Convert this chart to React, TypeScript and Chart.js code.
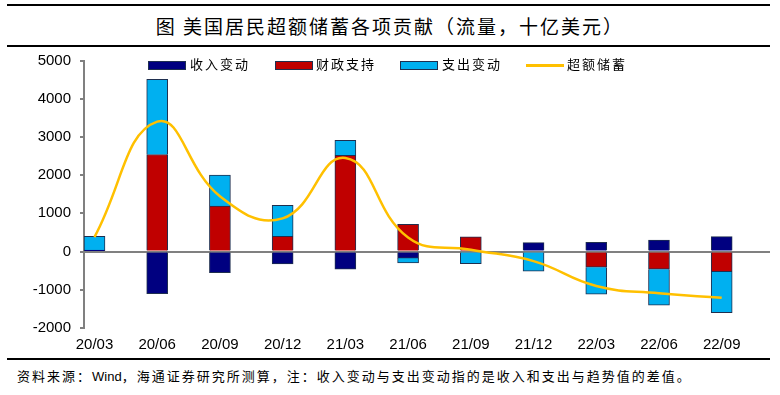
import React, { useEffect, useRef } from "react";
import { Chart, registerables } from "chart.js";

Chart.register(...registerables);

const categories = ["20/03", "20/06", "20/09", "20/12", "21/03", "21/06", "21/09", "21/12", "22/03", "22/06", "22/09"];
const incomeChange = [40, -1100, -550, -320, -460, -170, 0, 235, 245, 300, 390];
const fiscalSupport = [0, 2540, 1190, 400, 2520, 715, 385, 0, -410, -460, -525];
const spendingChange = [360, 1970, 810, 810, 390, -130, -315, -515, -705, -940, -1075];
const excessSavings = [380, 3400, 1450, 870, 2450, 370, 50, -250, -900, -1090, -1210];

const seriesNames = ["收入变动", "财政支持", "支出变动", "超额储蓄"];
const titleText = "图 美国居民超额储蓄各项贡献（流量，十亿美元）";

const NAVY = "#000080";
const RED = "#C00000";
const CYAN = "#00B0F0";
const GOLD = "#FFC000";
const BORDER = "#1F2F4F";

const CJK = '"Noto Sans CJK SC", sans-serif';
const LATIN = '"Liberation Sans", Arial, sans-serif';

function toPoints(arr: number[]) {
  return arr.map((v, i) => ({ x: i, y: v }));
}

export default function App() {
  const ref = useRef<HTMLCanvasElement>(null);

  useEffect(() => {
    if (!ref.current) return;
    const barCommon = {
      type: "bar" as const,
      borderColor: BORDER,
      borderWidth: 1,
      barThickness: 21,
      order: 1,
    };
    const chart = new Chart(ref.current, {
      type: "bar",
      data: {
        datasets: [
          { ...barCommon, label: seriesNames[0], data: toPoints(incomeChange), backgroundColor: NAVY },
          { ...barCommon, label: seriesNames[1], data: toPoints(fiscalSupport), backgroundColor: RED },
          { ...barCommon, label: seriesNames[2], data: toPoints(spendingChange), backgroundColor: CYAN },
          {
            type: "line" as const,
            label: seriesNames[3],
            data: toPoints(excessSavings),
            borderColor: GOLD,
            backgroundColor: GOLD,
            borderWidth: 2.5,
            pointRadius: 0,
            tension: 0.45,
            order: 0,
          },
        ] as any,
      },
      options: {
        animation: false,
        responsive: false,
        layout: { padding: { top: 10.5, right: 10, bottom: 0, left: 0 } },
        plugins: {
          legend: { display: false },
          tooltip: { enabled: false },
          title: { display: false },
        },
        scales: {
          x: {
            type: "linear",
            stacked: true,
            offset: false,
            min: -0.167,
            max: 10.77,
            grid: { display: false, drawTicks: false, offset: false },
            border: { display: false },
            ticks: {
              stepSize: 1,
              includeBounds: false,
              autoSkip: false,
              maxRotation: 0,
              padding: 8,
              color: "#000",
              font: { family: LATIN, size: 15 },
              callback: (v: any) => {
                const i = Number(v);
                return Number.isInteger(i) && categories[i] !== undefined ? categories[i] : "";
              },
            },
            afterFit: (s: any) => {
              s.height = 27;
              s.paddingLeft = 0;
              s.paddingRight = 0;
            },
          },
          y: {
            stacked: true,
            min: -2000,
            max: 5000,
            grid: {
              drawOnChartArea: true,
              color: (ctx: any) => (ctx.tick && ctx.tick.value === 0 ? "#808080" : "rgba(0,0,0,0)"),
              lineWidth: 2,
              tickColor: "#808080",
              tickLength: 4,
            },
            border: { display: true, color: "#808080", width: 2 },
            ticks: {
              stepSize: 1000,
              padding: 9,
              color: "#000",
              font: { family: LATIN, size: 15 },
              callback: (v: any) => String(v),
            },
            afterFit: (s: any) => {
              s.width = 84;
              s.paddingTop = 0;
              s.paddingBottom = 0;
            },
          },
        },
      } as any,
    });
    return () => chart.destroy();
  }, []);

  const legendText: React.CSSProperties = {
    position: "absolute",
    top: 55,
    fontFamily: CJK,
    fontSize: 13,
    letterSpacing: 2,
    lineHeight: "18px",
    color: "#000",
    whiteSpace: "nowrap",
  };
  const box = (left: number, color: string): React.CSSProperties => ({
    position: "absolute",
    left,
    top: 61,
    width: 36,
    height: 7,
    background: color,
    border: `1px solid ${BORDER}`,
  });

  return (
    <div
      style={{
        position: "absolute",
        left: 0,
        top: 0,
        width: 780,
        height: 395,
        background: "#fff",
        overflow: "hidden",
      }}
    >
      <div style={{ position: "absolute", left: 7, top: 4, width: 763, height: 2, background: "#000" }} />
      <div
        style={{
          position: "absolute",
          left: 0,
          top: 12,
          width: 780,
          height: 28,
          lineHeight: "28px",
          textAlign: "center",
          fontFamily: CJK,
          fontSize: 19,
          letterSpacing: 2,
          color: "#000",
          whiteSpace: "nowrap",
        }}
      >
        {titleText}
      </div>
      <div style={{ position: "absolute", left: 7, top: 45, width: 763, height: 2, background: "#000" }} />

      <div style={{ position: "absolute", left: 0, top: 50, width: 780, height: 305 }}>
        <canvas ref={ref} width={780} height={305} style={{ display: "block" }} />
      </div>

      <div style={box(148, NAVY)} />
      <div style={{ ...legendText, left: 190 }}>{seriesNames[0]}</div>
      <div style={box(275, RED)} />
      <div style={{ ...legendText, left: 316 }}>{seriesNames[1]}</div>
      <div style={box(400, CYAN)} />
      <div style={{ ...legendText, left: 442 }}>{seriesNames[2]}</div>
      <div style={{ position: "absolute", left: 526, top: 64, width: 38, height: 3, background: GOLD }} />
      <div style={{ ...legendText, left: 567 }}>{seriesNames[3]}</div>

      <div style={{ position: "absolute", left: 7, top: 358, width: 763, height: 2, background: "#000" }} />
      <div
        style={{
          position: "absolute",
          left: 17,
          top: 368,
          fontFamily: `${LATIN.split(",")[0]}, ${CJK}`,
          fontSize: 13,
          letterSpacing: 2,
          lineHeight: "18px",
          color: "#000",
          whiteSpace: "nowrap",
        }}
      >
        资料来源：<span style={{ letterSpacing: 0 }}>Wind</span>，海通证券研究所测算，注：收入变动与支出变动指的是收入和支出与趋势值的差值。
      </div>
    </div>
  );
}
